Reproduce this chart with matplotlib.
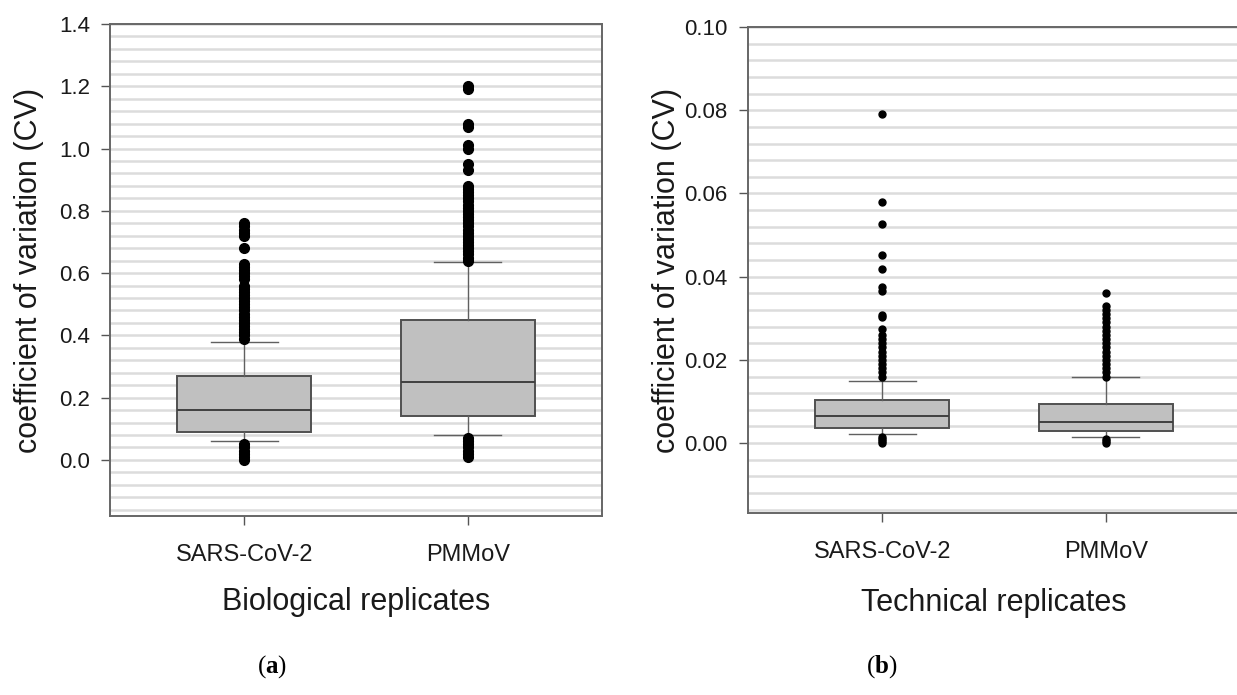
import matplotlib
matplotlib.use("Agg")
import matplotlib.pyplot as plt
from matplotlib.ticker import MultipleLocator

plt.rcParams['font.family'] = ['Liberation Sans', 'DejaVu Sans']
plt.rcParams['mathtext.fontset'] = 'custom'
plt.rcParams['mathtext.bf'] = 'Liberation Serif:bold'
plt.rcParams['mathtext.rm'] = 'Liberation Serif'

categories = ['SARS-CoV-2', 'PMMoV']

# (a) biological replicates: whislo, q1, median, q3, whishi
bio_sars = [0.061, 0.091, 0.161, 0.270, 0.380]
bio_pmmov = [0.080, 0.141, 0.250, 0.450, 0.637]
bio_sars_fliers = [0.00, 0.01, 0.02, 0.03, 0.04, 0.05,
                   0.39, 0.40, 0.41, 0.42, 0.43, 0.44, 0.45, 0.46, 0.47, 0.48,
                   0.49, 0.50, 0.51, 0.52, 0.53, 0.54, 0.55, 0.56, 0.58, 0.59,
                   0.60, 0.61, 0.62, 0.63, 0.68, 0.72, 0.73, 0.74, 0.75, 0.76]
bio_pmmov_fliers = [0.01, 0.02, 0.03, 0.04, 0.05, 0.06, 0.07,
                    0.64, 0.65, 0.66, 0.67, 0.68, 0.69, 0.70, 0.71, 0.72, 0.73,
                    0.74, 0.75, 0.76, 0.77, 0.78, 0.79, 0.80, 0.81, 0.82, 0.83,
                    0.84, 0.85, 0.86, 0.87, 0.88, 0.93, 0.95, 1.00, 1.01, 1.07,
                    1.08, 1.19, 1.20]

# (b) technical replicates
tech_sars = [0.0022, 0.0036, 0.0065, 0.0104, 0.0150]
tech_pmmov = [0.0015, 0.0028, 0.0051, 0.0095, 0.0158]
tech_sars_fliers = [0.0, 0.0005, 0.0010, 0.0015,
                    0.016, 0.017, 0.018, 0.019, 0.020, 0.021, 0.022, 0.023,
                    0.024, 0.025, 0.026, 0.0275, 0.0303, 0.0309, 0.0366,
                    0.0376, 0.0418, 0.0453, 0.0526, 0.058, 0.079]
tech_pmmov_fliers = [0.0, 0.0005, 0.0010,
                     0.016, 0.017, 0.018, 0.019, 0.020, 0.021, 0.022, 0.023,
                     0.024, 0.025, 0.026, 0.027, 0.028, 0.029, 0.030, 0.031,
                     0.032, 0.033, 0.036]

bio_ticks = [0.0, 0.2, 0.4, 0.6, 0.8, 1.0, 1.2, 1.4]
tech_ticks = [0.00, 0.02, 0.04, 0.06, 0.08, 0.10]


def make_stats(vals, fliers, label):
    lo, q1, med, q3, hi = vals
    return dict(whislo=lo, q1=q1, med=med, q3=q3, whishi=hi,
                fliers=fliers, label=label)


def draw_panel(ax, stats, ticks, ylim, grid_step, tick_fmt, msize, xlabel, xlab_y):
    ax.set_axisbelow(True)
    ax.bxp(stats, positions=[1, 2], widths=0.6, capwidths=0.3,
           patch_artist=True, showfliers=True,
           boxprops=dict(facecolor='#c0c0c0', edgecolor='#505050', linewidth=1.4),
           medianprops=dict(color='#404040', linewidth=1.4),
           whiskerprops=dict(color='#606060', linewidth=1.0),
           capprops=dict(color='#606060', linewidth=1.0),
           flierprops=dict(marker='o', markerfacecolor='black',
                           markeredgecolor='black', markersize=msize))
    ax.set_xlim(0.4, 2.6)
    ax.set_ylim(*ylim)
    ax.set_yticks(ticks)
    ax.set_yticklabels([tick_fmt.format(t) for t in ticks])
    ax.yaxis.set_minor_locator(MultipleLocator(grid_step))
    ax.grid(axis='y', which='both', color='#dcdcdc', linewidth=1.8)
    ax.tick_params(axis='both', which='major', direction='out', length=6.5,
                   width=1.0, color='#555555', labelcolor='#1a1a1a')
    ax.tick_params(axis='y', which='major', labelsize=16, pad=8)
    ax.tick_params(axis='x', which='major', labelsize=17, pad=14)
    ax.tick_params(axis='y', which='minor', length=0)
    for sp in ax.spines.values():
        sp.set_color('#666666')
        sp.set_linewidth(1.4)
    ax.set_ylabel('coefficient of variation (CV)', fontsize=22, color='#1a1a1a')
    ax.yaxis.set_label_coords(-0.135, 0.5)
    ax.set_xlabel(xlabel, fontsize=22, color='#1a1a1a')
    ax.xaxis.set_label_coords(0.5, xlab_y)


fig = plt.figure(figsize=(12.37, 6.95), dpi=100)

ax1 = fig.add_axes([110 / 1237, 1 - 516 / 695, 492 / 1237, 492 / 695])
draw_panel(ax1,
           [make_stats(bio_sars, bio_sars_fliers, categories[0]),
            make_stats(bio_pmmov, bio_pmmov_fliers, categories[1])],
           bio_ticks, (-0.18, 1.4), 0.04, '{:.1f}', 7.0,
           'Biological replicates', -0.145)

ax2 = fig.add_axes([748 / 1237, 1 - 513 / 695, 492 / 1237, 486 / 695])
draw_panel(ax2,
           [make_stats(tech_sars, tech_sars_fliers, categories[0]),
            make_stats(tech_pmmov, tech_pmmov_fliers, categories[1])],
           tech_ticks, (-0.0168, 0.10), 0.004, '{:.2f}', 5.0,
           'Technical replicates', -0.155)

fig.text(272 / 1237, 1 - 667 / 695, r'($\mathbf{a}$)', ha='center', va='center',
         fontsize=18, family='Liberation Serif')
fig.text(882 / 1237, 1 - 667 / 695, r'($\mathbf{b}$)', ha='center', va='center',
         fontsize=18, family='Liberation Serif')

fig.savefig('out.png', dpi=100)
